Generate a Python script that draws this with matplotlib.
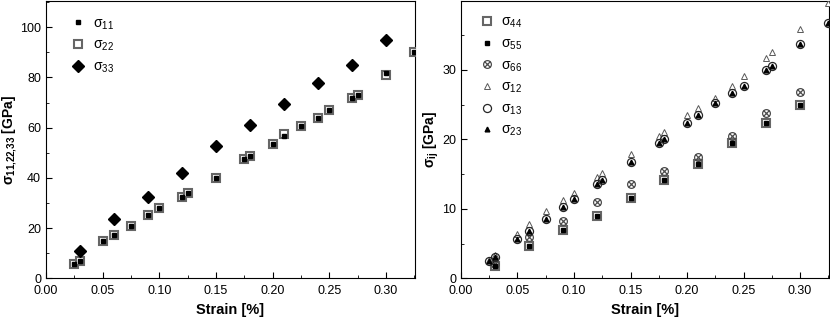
# -*- coding: utf-8 -*-

import numpy as np
import matplotlib.pyplot as plt
from matplotlib.path import Path
from matplotlib.ticker import MultipleLocator

plt.rcParams['font.family'] = ['Liberation Sans', 'DejaVu Sans']
plt.rcParams['mathtext.fontset'] = 'custom'
plt.rcParams['mathtext.rm'] = 'Liberation Sans'
plt.rcParams['mathtext.bf'] = 'Liberation Sans:bold'

# left panel: normal stresses
strain_n = [0.025, 0.03, 0.05, 0.06, 0.075, 0.09, 0.10, 0.12, 0.125, 0.15, 0.175,
            0.18, 0.20, 0.21, 0.225, 0.24, 0.25, 0.27, 0.275, 0.30, 0.325]
s11 = [5.6, 6.8, 14.7, 17.2, 20.9, 25.4, 27.9, 32.5, 33.8, 40.1, 47.4,
       48.9, 53.6, 56.8, 60.7, 64.0, 66.9, 71.9, 73.1, 81.6, 90.3]
s22 = [5.6, 6.8, 14.7, 17.2, 20.9, 25.4, 27.9, 32.5, 33.8, 40.1, 47.4,
       48.9, 53.6, 57.4, 60.7, 64.0, 66.9, 71.9, 73.1, 80.9, 90.3]
strain_33 = [0.03, 0.06, 0.09, 0.12, 0.15, 0.18, 0.21, 0.24, 0.27, 0.30]
s33 = [11.0, 23.6, 32.3, 42.1, 52.6, 61.1, 69.5, 77.7, 84.8, 95.0]

# right panel: shear / off-diagonal stresses
strain_s = [0.03, 0.06, 0.09, 0.12, 0.15, 0.18, 0.21, 0.24, 0.27, 0.30]
s44 = [1.8, 4.6, 7.0, 9.0, 11.6, 14.2, 16.5, 19.4, 22.4, 24.9]
s55 = [1.8, 4.6, 7.0, 9.0, 11.6, 14.2, 16.5, 19.4, 22.4, 24.9]
s66 = [2.0, 5.9, 8.3, 10.9, 13.5, 15.5, 17.5, 20.4, 23.8, 26.8]
strain_o = [0.025, 0.03, 0.05, 0.06, 0.075, 0.09, 0.10, 0.12, 0.125, 0.15, 0.175,
            0.18, 0.20, 0.21, 0.225, 0.24, 0.25, 0.27, 0.275, 0.30, 0.325]
s12 = [2.6, 3.3, 6.3, 7.8, 9.7, 11.25, 12.3, 14.5, 15.1, 17.9, 20.5,
       21.1, 23.5, 24.5, 26.0, 27.7, 29.1, 31.7, 32.5, 35.9, 39.6]
s13 = [2.5, 3.1, 5.7, 6.8, 8.5, 10.2, 11.4, 13.5, 14.2, 16.7, 19.4,
       20.0, 22.3, 23.5, 25.2, 26.6, 27.7, 30.0, 30.6, 33.7, 36.7]
s23 = [2.5, 3.1, 5.7, 6.8, 8.5, 10.2, 11.4, 13.5, 14.2, 16.7, 19.4,
       20.0, 22.3, 23.5, 25.2, 26.6, 27.7, 30.0, 30.6, 33.7, 36.7]

# circle with a cross inside
r = 0.7071
cross = Path([[-r, -r], [r, r], [-r, r], [r, -r]],
             [Path.MOVETO, Path.LINETO, Path.MOVETO, Path.LINETO])
otimes = Path.make_compound_path(Path.unit_circle(), cross)

fig = plt.figure(figsize=(8.3, 3.18), dpi=100)
ax1 = fig.add_axes([0.0554, 0.125, 0.4446, 0.872])
ax2 = fig.add_axes([0.5554, 0.125, 0.4434, 0.872])

ax1.plot(strain_n, s22, 's', ms=5.4, mfc='white', mec='0.4', mew=1.5, label=r'$\mathregular{\sigma_{22}}$', zorder=3)
ax1.plot(strain_n, s11, 's', ms=2.8, color='black', label=r'$\mathregular{\sigma_{11}}$', zorder=4)
ax1.plot(strain_33, s33, 'D', ms=5.8, color='black', label=r'$\mathregular{\sigma_{33}}$', zorder=4)

ax2.plot(strain_s, s44, 's', ms=5.4, mfc='white', mec='0.4', mew=1.5, label=r'$\mathregular{\sigma_{44}}$', zorder=3)
ax2.plot(strain_s, s55, 's', ms=2.8, color='black', label=r'$\mathregular{\sigma_{55}}$', zorder=4)
ax2.plot(strain_s, s66, marker=otimes, ls='none', ms=5.6, mfc='none', mec='0.3', mew=0.9, label=r'$\mathregular{\sigma_{66}}$', zorder=3)
ax2.plot(strain_o, s12, '^', ms=3.8, mfc='white', mec='0.35', mew=0.7, label=r'$\mathregular{\sigma_{12}}$', zorder=3)
ax2.plot(strain_o, s13, 'o', ms=5.8, mfc='none', mec='0.15', mew=0.9, label=r'$\mathregular{\sigma_{13}}$', zorder=3)
ax2.plot(strain_o, s23, '^', ms=3.4, color='black', label=r'$\mathregular{\sigma_{23}}$', zorder=4)

for ax in (ax1, ax2):
    ax.set_xlim(0, 0.3256)
    ax.xaxis.set_major_locator(MultipleLocator(0.05))
    ax.xaxis.set_minor_locator(MultipleLocator(0.025))
    ax.xaxis.set_major_formatter(plt.FormatStrFormatter('%.2f'))
    ax.tick_params(which='both', direction='in', labelsize=9)
    ax.tick_params(which='major', length=4)
    ax.tick_params(which='minor', length=2.5)
    ax.tick_params(axis='x', pad=5)
    ax.set_xlabel('Strain [%]', fontsize=10.5, fontweight='bold', labelpad=4)

ax1.set_ylim(0, 110.5)
ax1.yaxis.set_major_locator(MultipleLocator(20))
ax1.yaxis.set_minor_locator(MultipleLocator(10))
ax1.set_ylabel(r'$\mathregular{\sigma_{11{,}22{,}33}}$ [GPa]', fontsize=10, fontweight='bold', labelpad=1)

ax2.set_ylim(0, 39.9)
ax2.yaxis.set_major_locator(MultipleLocator(10))
ax2.yaxis.set_minor_locator(MultipleLocator(5))
ax2.set_ylabel(r'$\mathregular{\sigma_{ij}}$ [GPa]', fontsize=10, fontweight='bold', labelpad=1)

h, l = ax1.get_legend_handles_labels()
order = [1, 0, 2]
ax1.legend([h[i] for i in order], [l[i] for i in order], loc='upper left',
           frameon=False, fontsize=10, labelspacing=0.45, handlelength=1.2,
           handletextpad=0.5, bbox_to_anchor=(0.03, 0.99))
ax2.legend(loc='upper left', frameon=False, fontsize=10, labelspacing=0.45,
           handlelength=1.2, handletextpad=0.4, bbox_to_anchor=(0.015, 0.995))

plt.savefig('out.png', format='png', dpi=100)
